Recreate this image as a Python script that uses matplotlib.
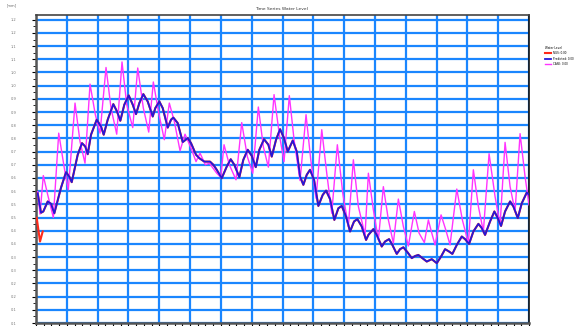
import numpy as np
import matplotlib
matplotlib.use("Agg")
import matplotlib.pyplot as plt
from matplotlib.ticker import MultipleLocator

# === Data (time in grid units, level in m) ===
blue_t = [0.55, 1.62, 2.37, 3.80, 4.87, 5.94, 8.11, 9.74, 10.81, 11.59,
          13.53, 14.93, 16.00, 16.78, 17.85, 19.70, 21.10, 21.97, 23.27, 25.09,
          26.29, 27.36, 28.66, 30.09, 31.39, 32.46, 33.53, 34.83, 36.25, 37.88,
          38.72, 40.02, 41.12, 42.75, 43.82, 44.56, 45.99, 47.61, 49.24, 50.31,
          51.93, 53.00, 54.63, 56.47, 57.55, 58.65, 60.27, 61.89, 63.19, 64.36,
          65.98, 67.28, 68.71, 70.01, 71.31, 72.48, 74.00, 75.40, 76.50, 77.90,
          79.20, 80.49, 81.69, 83.32, 84.62, 85.69, 86.76, 87.86, 88.93, 90.23,
          91.63, 93.05, 94.13, 95.42, 96.82, 98.12, 99.22, 100.62, 101.91, 103.21,
          104.28, 105.71, 107.11, 107.86, 109.48, 110.58, 112.20, 113.27, 114.57, 115.65,
          117.07, 118.14, 119.21, 120.64, 121.94, 123.01, 124.08, 125.38, 126.81, 128.43,
          130.05, 131.45, 132.75, 134.05, 135.12, 136.55, 138.17, 139.24, 140.54, 141.93,
          143.56, 144.66, 145.73, 147.35, 148.75, 149.85, 150.92, 152.22, 153.85, 154.92,
          156.35, 157.64, 159.27, 160.0]
blue_y = [0.542, 0.468, 0.473, 0.511, 0.502, 0.466, 0.563, 0.622, 0.605, 0.584,
          0.688, 0.732, 0.719, 0.690, 0.764, 0.821, 0.795, 0.764, 0.821, 0.880,
          0.852, 0.817, 0.878, 0.913, 0.878, 0.842, 0.884, 0.918, 0.890, 0.833,
          0.865, 0.890, 0.865, 0.791, 0.821, 0.829, 0.808, 0.736, 0.751, 0.732,
          0.688, 0.675, 0.662, 0.662, 0.650, 0.631, 0.599, 0.643, 0.671, 0.650,
          0.603, 0.669, 0.707, 0.684, 0.641, 0.707, 0.747, 0.726, 0.681, 0.745,
          0.785, 0.751, 0.700, 0.742, 0.700, 0.605, 0.574, 0.612, 0.631, 0.593,
          0.494, 0.536, 0.552, 0.520, 0.441, 0.485, 0.494, 0.454, 0.397, 0.435,
          0.444, 0.416, 0.365, 0.384, 0.406, 0.384, 0.340, 0.359, 0.368, 0.346,
          0.312, 0.330, 0.337, 0.317, 0.296, 0.304, 0.308, 0.296, 0.283, 0.292,
          0.277, 0.302, 0.330, 0.321, 0.312, 0.346, 0.378, 0.368, 0.350, 0.397,
          0.426, 0.410, 0.384, 0.435, 0.473, 0.448, 0.418, 0.473, 0.511, 0.492,
          0.448, 0.504, 0.545, 0.536]

magenta_t = [0.55, 1.30, 2.37, 3.80, 5.62, 7.37, 9.19, 10.48, 12.66, 14.28,
             15.90, 17.53, 19.25, 20.77, 22.72, 24.34, 26.19, 27.91, 29.44, 31.39,
             33.01, 34.83, 36.58, 38.07, 39.82, 41.64, 43.26, 44.89, 46.74, 48.36,
             50.31, 51.93, 53.23, 54.95, 56.25, 58.65, 59.95, 61.02, 62.74, 64.91,
             66.76, 68.58, 70.33, 72.15, 73.77, 75.40, 77.25, 78.97, 80.49, 82.21,
             83.74, 85.69, 87.63, 89.16, 90.88, 92.73, 94.35, 95.98, 97.79, 99.55,
             101.36, 102.99, 104.61, 106.78, 107.86, 109.48, 111.10, 112.72, 114.35, 115.97,
             117.59, 119.21, 120.84, 122.78, 124.31, 126.03, 127.33, 128.43, 129.50, 131.45,
             132.98, 134.37, 136.55, 138.36, 140.31, 141.93, 143.56, 145.18, 147.03, 148.98,
             150.60, 152.22, 153.85, 155.47, 157.09, 158.71, 160.0]
magenta_y = [0.548, 0.463, 0.609, 0.536, 0.450, 0.770, 0.637, 0.555, 0.884, 0.738,
             0.656, 0.956, 0.840, 0.770, 1.019, 0.865, 0.766, 1.040, 0.878, 0.791,
             1.017, 0.865, 0.774, 0.964, 0.846, 0.745, 0.884, 0.814, 0.703, 0.766,
             0.713, 0.662, 0.694, 0.650, 0.656, 0.618, 0.603, 0.726, 0.650, 0.593,
             0.810, 0.681, 0.618, 0.869, 0.719, 0.641, 0.916, 0.764, 0.662, 0.912,
             0.745, 0.590, 0.840, 0.669, 0.523, 0.783, 0.618, 0.466, 0.726, 0.542,
             0.416, 0.669, 0.492, 0.384, 0.618, 0.479, 0.365, 0.567, 0.441, 0.353,
             0.520, 0.416, 0.342, 0.473, 0.391, 0.355, 0.441, 0.391, 0.346, 0.460,
             0.403, 0.346, 0.558, 0.441, 0.353, 0.631, 0.492, 0.397, 0.692, 0.529,
             0.422, 0.735, 0.567, 0.473, 0.768, 0.605, 0.498]

# red gauge: short stretch at the start, then it sits under the blue line
red_start_t = [0.23, 1.30, 2.17]
red_start_y = [0.449, 0.359, 0.397]

yticks = [0.05, 0.10, 0.15, 0.20, 0.25, 0.30, 0.35, 0.40, 0.45, 0.50, 0.55, 0.60,
          0.65, 0.70, 0.75, 0.80, 0.85, 0.90, 0.95, 1.00, 1.05, 1.10, 1.15, 1.20]
ytick_labels = ["0.1", "0.1", "0.2", "0.2", "0.3", "0.3", "0.4", "0.4", "0.5", "0.5",
                "0.6", "0.6", "0.7", "0.7", "0.8", "0.8", "0.9", "0.9", "1.0", "1.0",
                "1.1", "1.1", "1.2", "1.2"]
legend_labels = ["NGS: 0.00", "Predicted: 0.00", "CASE: 0.00"]

# === Plot ===
fig = plt.figure(figsize=(5.78, 3.26), dpi=100)
ax = fig.add_axes([0.0623, 0.0092, 0.8530, 0.9448])

grid_col = "#1a86ff"
ax.set_xlim(0, 160)
ax.set_ylim(0.05, 1.218)
ax.xaxis.set_major_locator(MultipleLocator(10))
ax.xaxis.set_minor_locator(MultipleLocator(2.5))
ax.set_yticks(yticks)
ax.set_yticklabels(ytick_labels)
ax.yaxis.set_minor_locator(MultipleLocator(0.025))
ax.set_xticklabels([])
ax.grid(True, which="major", color=grid_col, lw=1.6)
ax.set_axisbelow(True)

ax.tick_params(axis="y", which="major", length=3, width=0.8, labelsize=2.6,
               labelcolor="#777777", pad=11)
ax.tick_params(axis="y", which="minor", length=2, width=0.6)
ax.tick_params(axis="x", which="both", length=2, width=0.8)

for side in ["left", "bottom"]:
    ax.spines[side].set_color("#555555")
    ax.spines[side].set_linewidth(1.8)
ax.spines["top"].set_color("#444444")
ax.spines["top"].set_linewidth(1.2)
ax.spines["right"].set_color("#111111")
ax.spines["right"].set_linewidth(1.2)

red_t = red_start_t + [np.nan] + blue_t
red_y = red_start_y + [np.nan] + blue_y
l_red, = ax.plot(red_t, red_y, color="#ff2a1a", lw=1.5, zorder=3)
l_mag, = ax.plot(magenta_t, magenta_y, color="#ff33ff", lw=1.0, zorder=4)
l_blue, = ax.plot(blue_t, blue_y, color="#2418d8", lw=1.3, zorder=5)

fig.text(0.487, 0.972, "Time Series Water Level", fontsize=3.2, color="#333333",
         ha="center", va="center")
fig.text(0.021, 0.982, "[mm]", fontsize=2.6, color="#666666", ha="center", va="center")

leg = fig.legend([l_red, l_blue, l_mag], legend_labels, title="Water Level",
                 loc="upper left", bbox_to_anchor=(0.940, 0.865), frameon=False,
                 fontsize=2.0, title_fontsize=2.1, handlelength=2.2,
                 handletextpad=0.5, labelspacing=0.5, borderpad=0.2)
leg._legend_box.align = "left"

fig.savefig("out.png", dpi=100)
